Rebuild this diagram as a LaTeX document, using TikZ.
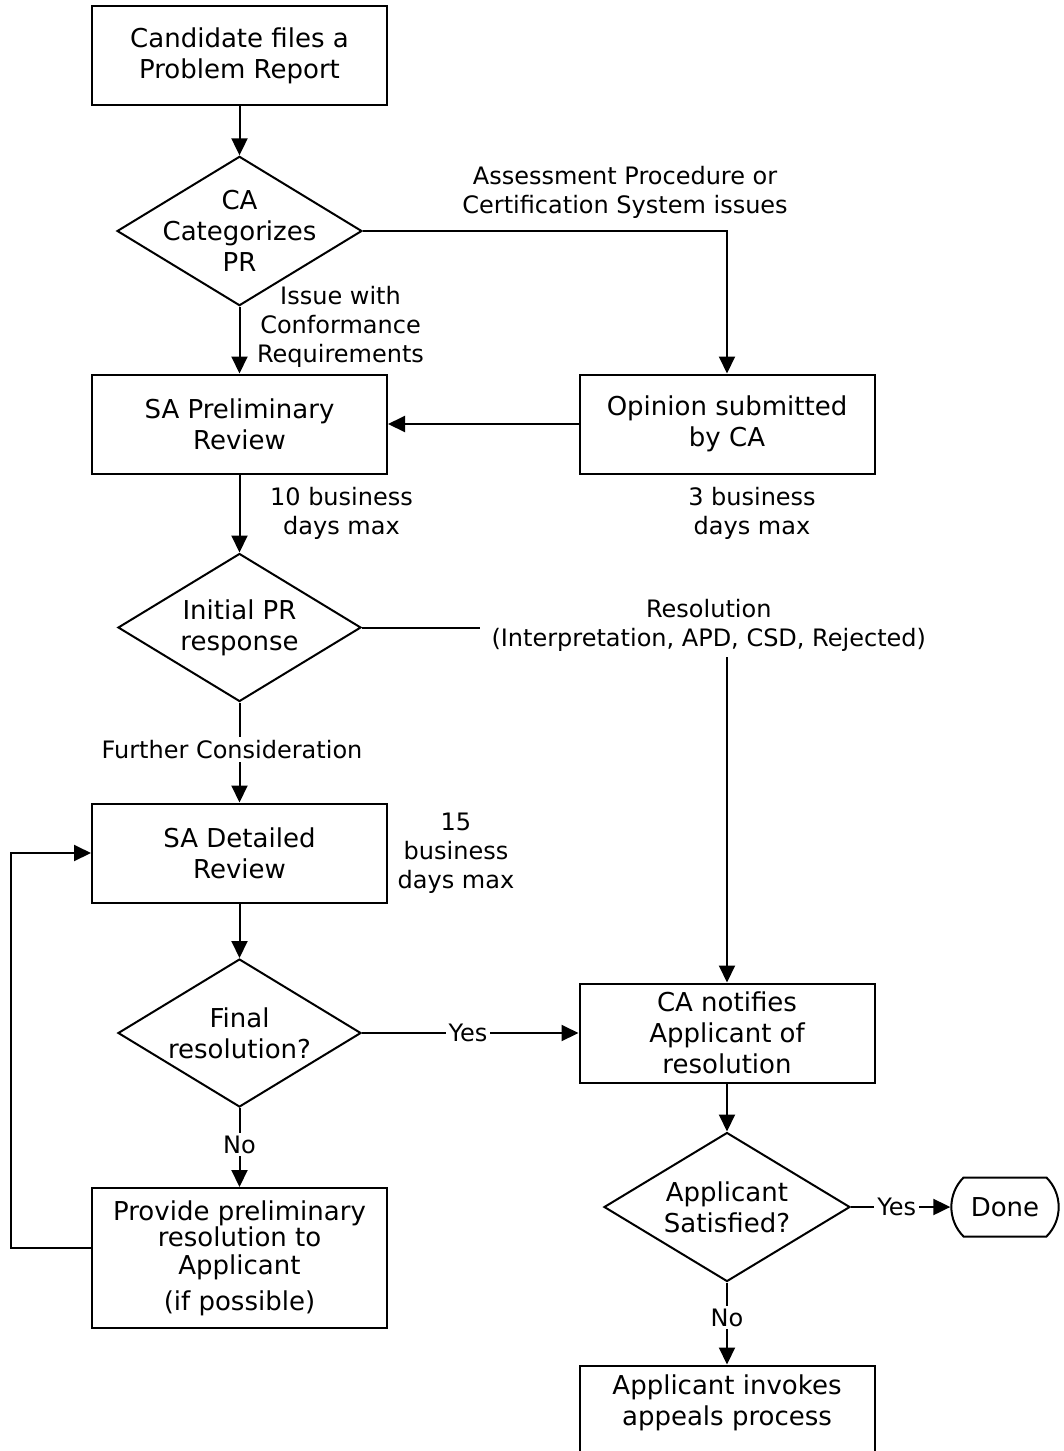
\documentclass[tikz,border=0pt]{standalone}
\usepackage{fontspec}
\setmainfont{DejaVu Sans}
\usetikzlibrary{arrows.meta, shapes.geometric, shapes.misc}

\newcommand{\boxfont}{\fontsize{26}{31}\selectfont}
\newcommand{\notefont}{\fontsize{24}{29}\selectfont}

\begin{document}
\begin{tikzpicture}[
    ->, >={Triangle[length=17pt, width=16pt]}, line width=2pt, node distance=180pt,
    every node/.style={align=center},
    process/.style={draw, rectangle, font=\boxfont, minimum width=295pt, minimum height=99pt},
    decision/.style={draw, diamond, aspect=1.64, inner sep=-8pt, font=\boxfont, minimum width=243pt, minimum height=148pt},
    terminal/.style={draw, rounded rectangle, rounded rectangle arc length=90, font=\boxfont, minimum width=114pt, minimum height=59pt},
    note/.style={font=\notefont, inner sep=3pt},
    tag/.style={note, fill=white}
]
\useasboundingbox (0,0) rectangle (1063pt,-1451pt);
\node (file_problem_report) [process] at (239.5pt,-55.5pt) {Candidate files a\\ Problem Report};
\node (categorize_pr) [decision, below of=file_problem_report, yshift=4.5pt] {CA\\ Categorizes\\ PR};
\node (sa_preliminary_review) [process, below of=categorize_pr, yshift=-13pt] {SA Preliminary\\ Review};
\node (opinion_by_ca) [process, right of=sa_preliminary_review, xshift=307.5pt] {Opinion submitted\\ by CA};
\node (initial_pr_response) [decision, below of=sa_preliminary_review, yshift=-23.5pt] {Initial PR\\ response};
\node (sa_detailed_review) [process, below of=initial_pr_response, yshift=-45.5pt] {SA Detailed\\ Review};
\node (final_resolution) [decision, below of=sa_detailed_review] {Final\\ resolution?};
\node (preliminary_resolution) [process, below of=final_resolution, yshift=-45pt, minimum height=140pt] {Provide preliminary\\[-5pt] resolution to\\[-3pt] Applicant\\[5pt] (if possible)};
\node (ca_notifies) [process, right of=final_resolution, xshift=307.5pt] {CA notifies\\ Applicant of\\ resolution};
\node (applicant_satisfied) [decision, below of=ca_notifies, yshift=6pt, minimum width=246pt, minimum height=149pt] {Applicant\\ Satisfied?};
\node (done) [terminal, right of=applicant_satisfied, xshift=98pt] {Done};
\node (appeals_process) [process, below of=applicant_satisfied, yshift=-29pt, minimum height=101pt] {Applicant invokes\\ appeals process\\ \mbox{}};
\node (note_opinion_time) [note, below of=opinion_by_ca, yshift=91pt, xshift=25pt] {3 business\\ days max};
\node (note_detailed_time) [note, right of=sa_detailed_review, xshift=36.5pt] {15\\ business\\ days max};
\draw[->] (file_problem_report) -- (categorize_pr);
\draw[->] (categorize_pr) -- node (note_conformance) [note, xshift=101pt, yshift=13pt] {Issue with\\ Conformance\\ Requirements} (sa_preliminary_review);
\draw[->] (categorize_pr.east) -| node (note_system_issues) [note, pos=0.36, yshift=39pt] {Assessment Procedure or\\ Certification System issues} (opinion_by_ca.north);
\draw[->] (opinion_by_ca) -- (sa_preliminary_review);
\draw[->] (sa_preliminary_review) -- node (note_preliminary_time) [note, xshift=102pt] {10 business\\ days max} (initial_pr_response);
\draw[->] (initial_pr_response.east) -| node (tag_resolution) [tag, pos=0.475, yshift=2pt, inner xsep=12pt, inner ysep=5pt] {Resolution\\ (Interpretation, APD, CSD, Rejected)} (ca_notifies.north);
\draw[->] (initial_pr_response) -- node (tag_further) [tag, xshift=-7.5pt, yshift=3pt] {Further Consideration} (sa_detailed_review);
\draw[->] (sa_detailed_review) -- (final_resolution);
\draw[->] (final_resolution) -- node (tag_final_yes) [tag, pos=0.49] {Yes} (ca_notifies);
\draw[->] (final_resolution) -- node (tag_final_no) [tag, yshift=3pt] {No} (preliminary_resolution);
\draw[->] ([yshift=10pt]preliminary_resolution.west) -- ++(-80pt,0) |- (sa_detailed_review.west);
\draw[->] (ca_notifies) -- (applicant_satisfied);
\draw[->] (applicant_satisfied) -- node (tag_satisfied_yes) [tag, pos=0.46] {Yes} (done);
\draw[->] (applicant_satisfied) -- node (tag_satisfied_no) [tag, yshift=6pt] {No} (appeals_process);
\end{tikzpicture}
\end{document}
